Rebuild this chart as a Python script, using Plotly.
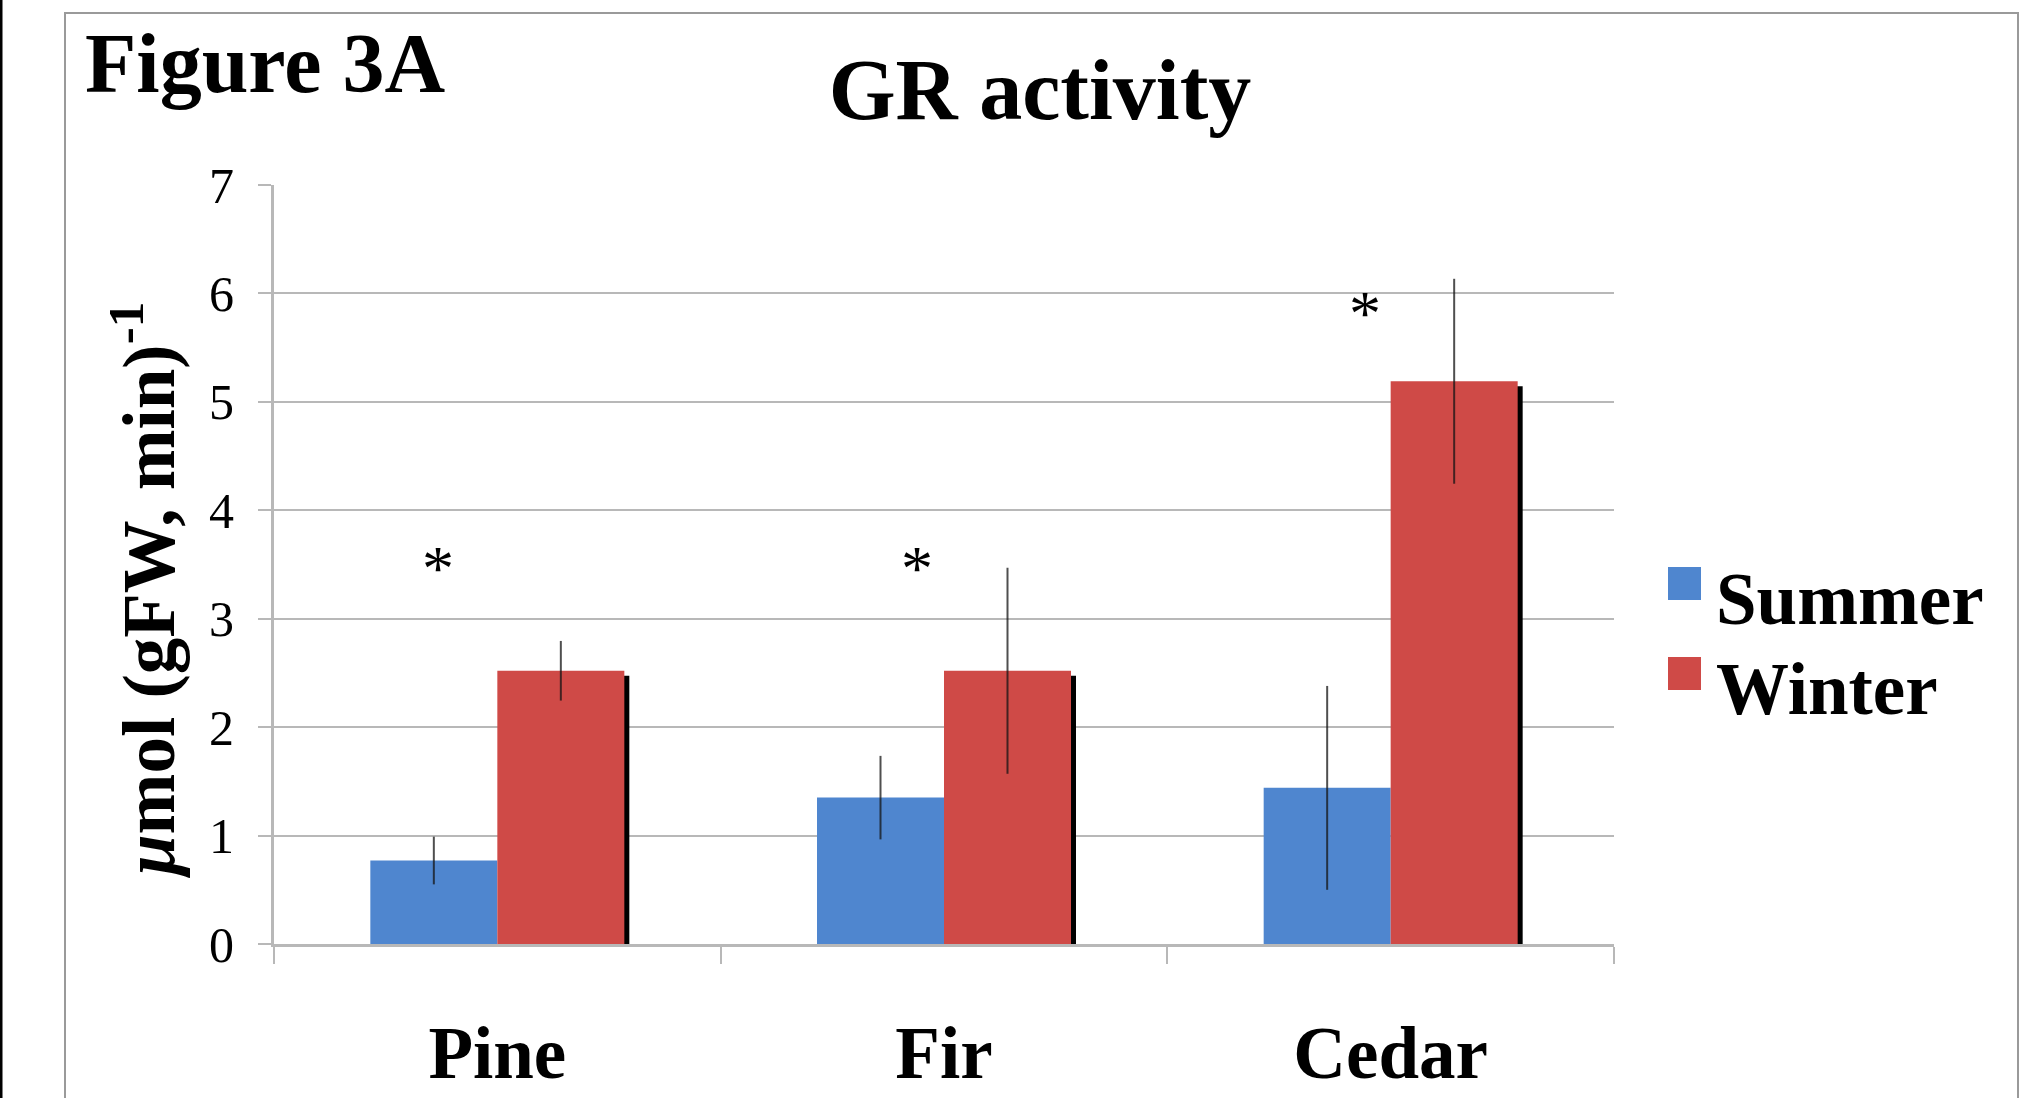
import plotly.graph_objects as go

# ---- data ----
categories = ["Pine", "Fir", "Cedar"]
summer = [0.77, 1.35, 1.44]
summer_err = [0.22, 0.385, 0.94]
winter = [2.52, 2.52, 5.19]
winter_err = [0.275, 0.95, 0.945]
series_names = ["Summer", "Winter"]
star_labels = ["*", "*", "*"]
y_ticks = [0, 1, 2, 3, 4, 5, 6, 7]

# ---- layout geometry (pixels) ----
FIG_W, FIG_H = 2036, 1098
L, R, T, B = 274, 1614, 185, 944
PW, PH = R - L, B - T


def px_x(px):
    return (px - L) / PW


def px_y(py):
    return (B - py) / PH


SERIF = "Liberation Serif, Times New Roman, serif"
BLUE = "#4F86CF"
RED = "#CF4A47"
GRID = "#b8b8b8"

bar_w = 127 / (PW / 3)          # bar width in category units
shadow_dx = 5 / (PW / 3)        # shadow shift in category units
shadow_dy = 5 / (PH / 7)        # shadow drop in value units
shadow = [v - shadow_dy for v in winter]

fig = go.Figure()

fig.add_trace(go.Bar(
    x=categories, y=shadow, width=bar_w, offset=shadow_dx,
    marker=dict(color="black", line=dict(width=0)),
    showlegend=False, hoverinfo="skip",
))
fig.add_trace(go.Bar(
    x=categories, y=summer, name=series_names[0], width=bar_w, offset=-bar_w,
    marker=dict(color=BLUE, line=dict(width=0)),
    error_y=dict(type="data", array=summer_err, visible=True,
                 color="rgba(20,20,20,0.75)", thickness=2, width=0),
    showlegend=False,
))
fig.add_trace(go.Bar(
    x=categories, y=winter, name=series_names[1], width=bar_w, offset=0,
    marker=dict(color=RED, line=dict(width=0)),
    error_y=dict(type="data", array=winter_err, visible=True,
                 color="rgba(20,20,20,0.75)", thickness=2, width=0),
    showlegend=False,
))

# significance stars (positions in data coordinates)
star_x = [-0.133, -0.06, -0.057]
star_y = [3.54, 3.54, 5.89]
annotations = []
for i, lab in enumerate(star_labels):
    annotations.append(dict(
        x=i + star_x[i], y=star_y[i], xref="x", yref="y", text=lab,
        showarrow=False, font=dict(family=SERIF, size=64, color="black"),
        xanchor="center", yanchor="middle", yshift=-8,
    ))

# figure label
annotations.append(dict(
    x=px_x(83), y=px_y(64), xref="paper", yref="paper", text="<b>Figure 3A</b>",
    showarrow=False, font=dict(family=SERIF, size=84, color="black"),
    xanchor="left", yanchor="middle",
))
# y-axis title
annotations.append(dict(
    x=px_x(143), y=px_y(591), xref="paper", yref="paper",
    text="<b><i>μ</i>mol (gFW, min)<sup>-1</sup></b>", textangle=-90,
    showarrow=False, font=dict(family=SERIF, size=73, color="black"),
    xanchor="center", yanchor="middle",
))

# manual legend
legend_rows = [(567, 600, BLUE, series_names[0]), (657, 690, RED, series_names[1])]
shapes = []
for y0, y1, col, name in legend_rows:
    shapes.append(dict(type="rect", xref="paper", yref="paper",
                       x0=px_x(1668), x1=px_x(1701), y0=px_y(y1), y1=px_y(y0),
                       fillcolor=col, line=dict(width=0)))
    annotations.append(dict(
        x=px_x(1714), y=px_y((y0 + y1) / 2 + 16), xref="paper", yref="paper",
        text="<b>" + name + "</b>", showarrow=False,
        font=dict(family=SERIF, size=73, color="black"),
        xanchor="left", yanchor="middle",
    ))

# outer frame and left edge stripe
shapes.append(dict(type="rect", xref="paper", yref="paper",
                   x0=px_x(65), x1=px_x(2018), y0=px_y(1110), y1=px_y(13),
                   line=dict(color="#9a9a9a", width=2), fillcolor="rgba(0,0,0,0)",
                   layer="below"))
shapes.append(dict(type="line", xref="paper", yref="paper",
                   x0=px_x(1), x1=px_x(1), y0=px_y(1110), y1=px_y(-10),
                   line=dict(color="black", width=3)))

fig.update_layout(
    width=FIG_W, height=FIG_H,
    margin=dict(l=L, r=FIG_W - R, t=T, b=FIG_H - B, pad=0, autoexpand=False),
    paper_bgcolor="white", plot_bgcolor="white",
    barmode="overlay",
    showlegend=False,
    title=dict(text="<b>GR activity</b>", x=1040 / FIG_W, xanchor="center",
               xref="container", yref="container", y=1 - 89 / FIG_H, yanchor="middle",
               font=dict(family=SERIF, size=86, color="black")),
    annotations=annotations,
    shapes=shapes,
    font=dict(family=SERIF, color="black"),
)

fig.update_xaxes(
    type="category", range=[-0.5, 2.5], automargin=False,
    showline=True, linecolor=GRID, linewidth=3,
    ticks="outside", tickson="boundaries", ticklen=17, tickwidth=2, tickcolor=GRID,
    tickfont=dict(family=SERIF, size=73, color="black"),
    tickprefix="<b>", ticksuffix="</b>",
    ticklabelstandoff=43,
    showgrid=False, zeroline=False,
)
fig.update_yaxes(
    range=[0, 7], tickvals=y_ticks, ticktext=[str(v) for v in y_ticks],
    automargin=False,
    showline=True, linecolor=GRID, linewidth=3,
    ticks="outside", ticklen=13, tickwidth=2, tickcolor=GRID,
    showgrid=True, gridcolor=GRID, gridwidth=2,
    zeroline=False,
    tickfont=dict(family=SERIF, size=50, color="black"),
    ticklabelstandoff=14,
)

fig.write_html("out.html")
